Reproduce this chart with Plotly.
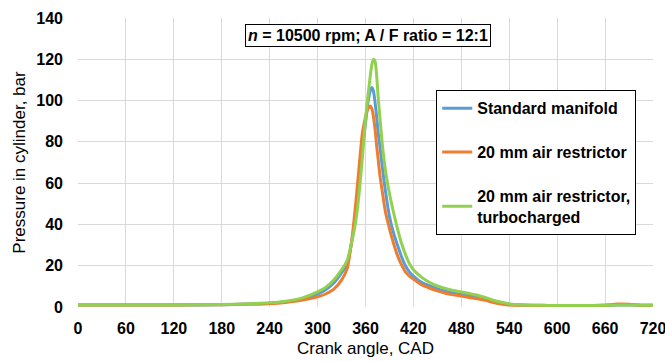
import plotly.graph_objects as go

# Crank angle (CAD)
crank_angle = [0, 60, 120, 180, 210, 240, 260, 280, 300, 310, 320, 330, 337, 343, 348,
               352, 356, 360, 363, 366, 368, 370, 372, 374, 376, 378, 381, 385, 390, 395,
               400, 405, 410, 415, 420, 430, 440, 450, 460, 470, 480, 490, 500, 510, 520,
               530, 540, 560, 580, 600, 630, 660, 675, 690, 705, 720]

standard_manifold = [1.0, 1.0, 1.0, 1.1, 1.4, 1.8, 2.5, 3.8, 6.2, 8.3, 11.5, 16.5, 21.0, 32.0, 46.0,
                     61.0, 77.0, 89.0, 99.0, 104.8, 106.3, 104.5, 99.0, 92.0, 84.0, 78.0, 68.0, 56.0, 44.0, 36.0,
                     30.0, 24.5, 20.0, 17.0, 15.0, 12.0, 10.3, 8.8, 7.6, 6.7, 6.1, 5.4, 4.7, 3.8, 2.7,
                     1.9, 1.3, 0.9, 0.8, 0.7, 0.7, 0.8, 1.0, 1.0, 0.9, 0.8]

air_restrictor = [1.0, 1.0, 1.0, 1.1, 1.3, 1.6, 2.2, 3.2, 4.9, 6.3, 8.5, 13.0, 18.5, 33.0, 51.0,
                  68.0, 84.0, 92.0, 96.0, 97.4, 96.0, 92.0, 86.0, 78.0, 71.0, 64.0, 56.0, 46.0, 38.0, 31.0,
                  25.0, 20.5, 17.0, 15.0, 13.5, 10.8, 9.2, 7.8, 6.7, 5.9, 5.3, 4.6, 4.0, 3.2, 2.2,
                  1.5, 1.0, 0.8, 0.7, 0.7, 0.7, 0.9, 1.4, 1.3, 0.9, 0.8]

turbocharged = [1.0, 1.0, 1.0, 1.2, 1.5, 2.0, 2.8, 4.3, 7.3, 9.5, 13.0, 18.0, 22.5, 32.0, 42.0,
                55.0, 72.0, 91.0, 102.0, 112.0, 117.5, 120.0, 119.0, 112.0, 101.0, 92.0, 79.0, 66.0, 55.0, 46.0,
                38.0, 31.0, 25.5, 21.0, 18.0, 14.5, 12.0, 10.2, 9.0, 8.0, 7.3, 6.5, 5.7, 4.6, 3.3,
                2.3, 1.5, 1.0, 0.8, 0.7, 0.7, 0.8, 1.0, 1.0, 0.9, 0.8]

series_names = ["Standard manifold", "20 mm air restrictor", "20 mm air restrictor,<br>turbocharged"]
series_values = [standard_manifold, air_restrictor, turbocharged]
series_colors = ["#5B9BD5", "#ED7D31", "#92D050"]

x_ticks = list(range(0, 721, 60))
y_ticks = list(range(0, 141, 20))

FONT = "Liberation Sans, Arial, sans-serif"

fig = go.Figure()
for i, (name, vals, col) in enumerate(zip(series_names, series_values, series_colors)):
    fig.add_trace(go.Scatter(
        x=crank_angle, y=vals, name=name, mode="lines",
        line=dict(color=col, width=3, shape="spline", smoothing=0.6),
        legendgroup=f"g{i}",
    ))

fig.update_layout(
    width=665, height=362,
    margin=dict(l=78, r=12, t=18, b=55),
    paper_bgcolor="white", plot_bgcolor="white",
    font=dict(family=FONT, color="black"),
    showlegend=True,
    legend=dict(
        x=0.623, y=0.75, xanchor="left", yanchor="top",
        bgcolor="white", bordercolor="black", borderwidth=1,
        font=dict(family=FONT, size=16, color="black", weight="bold"),
        tracegroupgap=20, itemwidth=30,
    ),
    xaxis=dict(
        range=[0, 720], tickvals=x_ticks, ticktext=[str(v) for v in x_ticks],
        showgrid=True, gridcolor="#D9D9D9", gridwidth=1, zeroline=False,
        showline=False, ticks="", ticklabelstandoff=10, automargin=False,
        ticklabeloverflow="allow",
        tickfont=dict(family=FONT, size=16, color="black", weight="bold"),
        title=dict(text="Crank angle, CAD", font=dict(family=FONT, size=17, color="black"), standoff=6),
    ),
    yaxis=dict(
        range=[0, 140], tickvals=y_ticks, ticktext=[str(v) for v in y_ticks],
        showgrid=True, gridcolor="#D9D9D9", gridwidth=1, zeroline=False,
        showline=False, ticks="", ticklabelstandoff=14, automargin=False,
        tickfont=dict(family=FONT, size=16, color="black", weight="bold"),
        title=dict(text="Pressure in cylinder, bar", font=dict(family=FONT, size=17, color="black"), standoff=6),
    ),
)

fig.add_annotation(
    x=0.504, y=0.938, xref="paper", yref="paper", xanchor="center", yanchor="middle",
    text="<i>n</i> = 10500 rpm; A / F ratio = 12:1", showarrow=False,
    font=dict(family=FONT, size=16, color="black", weight="bold"),
    bgcolor="white", bordercolor="black", borderwidth=1, borderpad=2,
)

fig.write_html("out.html", config={"displayModeBar": False},
               post_script="document.body.style.margin='0';document.body.style.overflow='hidden';")
